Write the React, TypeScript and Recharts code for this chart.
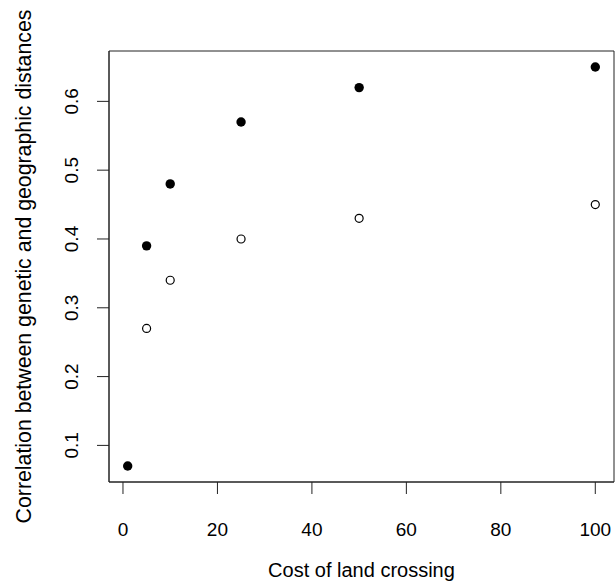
import { ScatterChart, Scatter, XAxis, YAxis, ReferenceArea } from 'recharts';

// cost of land crossing
const costs = [1, 5, 10, 25, 50, 100];
// filled points
const filledCorr = [0.07, 0.39, 0.48, 0.57, 0.62, 0.65];
// open points (no value at cost 1)
const openCosts = [5, 10, 25, 50, 100];
const openCorr = [0.27, 0.34, 0.4, 0.43, 0.45];

const xTicks = [0, 20, 40, 60, 80, 100];
const yTicks = [0.1, 0.2, 0.3, 0.4, 0.5, 0.6];
const xDomain = [-2.96, 103.96];
const yDomain = [0.0468, 0.6732];

const filledData = costs.map((c, i) => ({ cost: c, corr: filledCorr[i] }));
const openData = openCosts.map((c, i) => ({ cost: c, corr: openCorr[i] }));

const FONT = 'Liberation Sans, Arial, sans-serif';
const INK = '#222';

const YTick = (props: any) => {
  const { x, y, payload } = props;
  const tx = x - 17;
  return (
    <text x={tx} y={y} transform={`rotate(-90 ${tx} ${y})`} textAnchor="middle"
      fontFamily={FONT} fontSize={19} fill="#000">
      {payload.value}
    </text>
  );
};

const XTick = (props: any) => {
  const { x, y, payload } = props;
  return (
    <text x={x} y={y} dy="0.71em" textAnchor="middle" fontFamily={FONT} fontSize={19} fill="#000">
      {payload.value}
    </text>
  );
};

export default function App() {
  return (
    <div style={{ width: 616, height: 583, background: '#fff' }}>
      <style>{`body{margin:0}`}</style>
      <ScatterChart width={616} height={583} margin={{ top: 51, right: 2, left: 0, bottom: 0 }}>
        <XAxis
          type="number"
          dataKey="cost"
          domain={xDomain}
          ticks={xTicks}
          allowDataOverflow
          height={101}
          tickSize={12}
          tickMargin={29}
          tickLine={{ stroke: INK }}
          axisLine={{ stroke: INK }}
          tick={<XTick />}
          label={({ viewBox }: any) => (
            <text x={viewBox.x + viewBox.width / 2} y={577} textAnchor="middle"
              fontFamily={FONT} fontSize={20} fill="#000">
              Cost of land crossing
            </text>
          )}
        />
        <YAxis
          type="number"
          dataKey="corr"
          domain={yDomain}
          ticks={yTicks}
          allowDataOverflow
          width={109}
          tickSize={12}
          tickMargin={2}
          tickLine={{ stroke: INK }}
          axisLine={{ stroke: INK }}
          tick={<YTick />}
          label={({ viewBox }: any) => {
            const cx = 31;
            const cy = viewBox.y + viewBox.height / 2;
            return (
              <text x={cx} y={cy} transform={`rotate(-90 ${cx} ${cy})`} textAnchor="middle"
                fontFamily={FONT} fontSize={21.3} fill="#000">
                Correlation between genetic and geographic distances
              </text>
            );
          }}
        />
        <ReferenceArea x1={xDomain[0]} x2={xDomain[1]} y1={yDomain[0]} y2={yDomain[1]}
          fill="none" stroke={INK} strokeWidth={1} />
        <Scatter
          data={openData}
          isAnimationActive={false}
          shape={(p: any) => <circle cx={p.cx} cy={p.cy} r={4} fill="#fff" stroke="#000" strokeWidth={1.2} />}
        />
        <Scatter
          data={filledData}
          isAnimationActive={false}
          shape={(p: any) => <circle cx={p.cx} cy={p.cy} r={4.7} fill="#000" />}
        />
      </ScatterChart>
    </div>
  );
}
